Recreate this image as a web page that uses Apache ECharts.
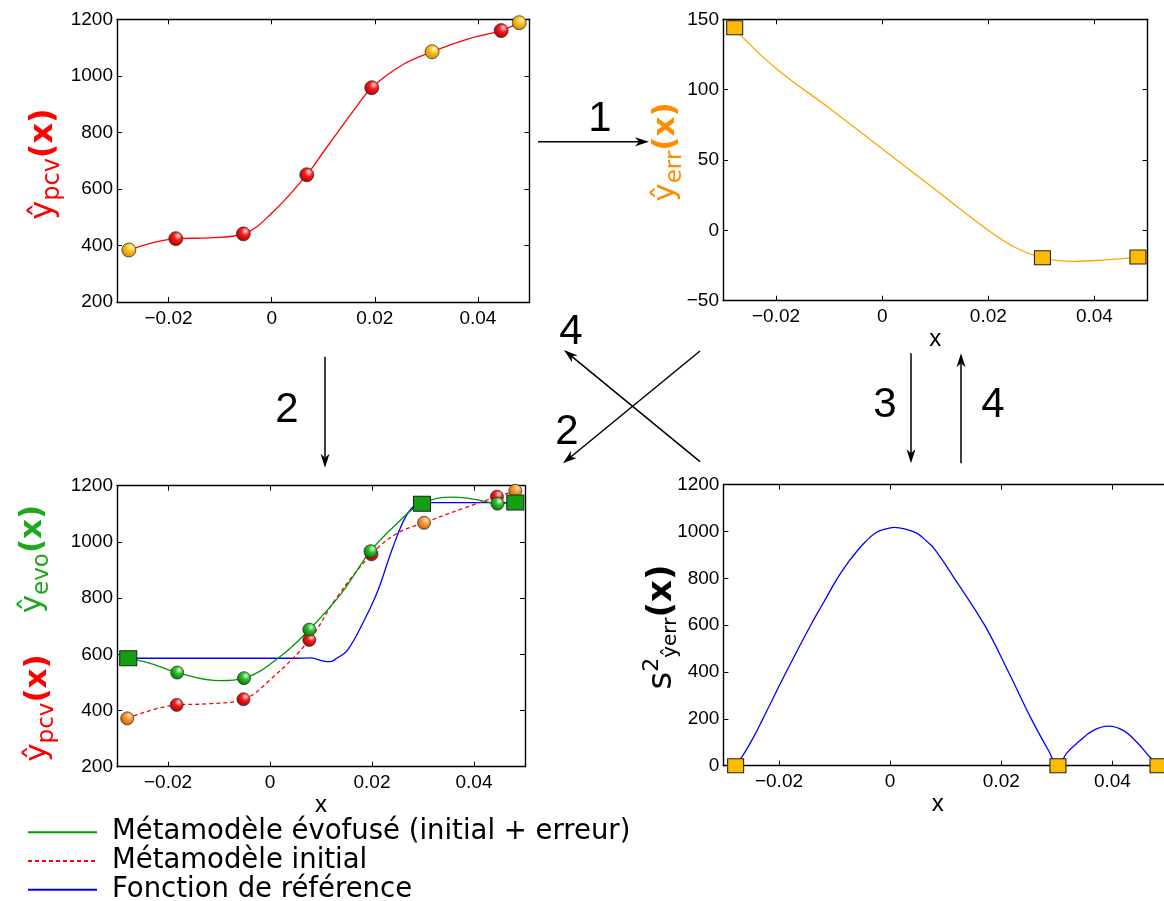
<!DOCTYPE html>
<html><head><meta charset="utf-8">
<script src="https://cdn.jsdelivr.net/npm/echarts@6/dist/echarts.min.js"></script>
<style>html,body{margin:0;padding:0;background:#fff}#c{width:1164px;height:901px}</style>
</head><body><div id="c"></div>
<script>
// ---------------- DATA ----------------
const X_TICKS = [-0.02, 0, 0.02, 0.04];

// Panel 1 (top-left): initial metamodel ŷpcv(x)
const p1CurveX = [-0.0277, -0.0186, -0.012, -0.0055, 0, 0.0068, 0.0102, 0.0131, 0.0162, 0.0194, 0.025, 0.0311, 0.038, 0.0445, 0.0480];
const p1CurveY = [384, 424, 427, 441, 514, 650, 735, 808, 885, 958, 1035, 1085, 1130, 1160, 1188];
const p1RedX = [-0.0186, -0.0055, 0.0068, 0.0194, 0.0445];
const p1RedY = [424, 441, 650, 958, 1160];
const p1YelX = [-0.0277, 0.0311, 0.0480];
const p1YelY = [384, 1085, 1188];

// Panel 2 (top-right): error metamodel ŷerr(x)
const p2CurveX = [-0.0278, -0.02, -0.01, 0, 0.01, 0.02, 0.025, 0.0302, 0.036, 0.042, 0.0482];
const p2CurveY = [143, 115, 87, 58, 29, 0, -12, -19.5, -22, -21, -19];
const p2SqX = [-0.0278, 0.0302, 0.0482];
const p2SqY = [144, -19.5, -19];

// Panel 3 (bottom-left)
const p3InitX = [-0.028, -0.0183, -0.012, -0.0052, 0, 0.0077, 0.013, 0.0199, 0.025, 0.0302, 0.038, 0.0445, 0.0481];
const p3InitY = [372, 420, 424, 440, 509, 651, 800, 956, 1031, 1068, 1120, 1161, 1182];
const p3EvoX = [-0.0278, -0.023, -0.0182, -0.0097, -0.0051, 0.002, 0.0077, 0.014, 0.0197, 0.025, 0.0297, 0.036, 0.041, 0.0446, 0.0481];
const p3EvoY = [586, 565, 535, 506, 515, 592, 688, 817, 967, 1067, 1136, 1159, 1149, 1136, 1140];
const p3RefX = [-0.0278, -0.01, 0.005, 0.008, 0.0105, 0.0118, 0.013, 0.0152, 0.0185, 0.0212, 0.0239, 0.0266, 0.0286, 0.0297, 0.035, 0.0481];
const p3RefY = [586, 586, 586, 587, 576, 574, 585, 615, 722, 829, 971, 1090, 1134, 1140, 1140, 1140];
const p3RedX = [-0.0183, -0.0052, 0.0077, 0.0199, 0.0445];
const p3RedY = [420, 440, 651, 956, 1161];
const p3OraX = [-0.028, 0.0302, 0.0481];
const p3OraY = [372, 1068, 1182];
const p3GrnX = [-0.0182, -0.0051, 0.0077, 0.0197, 0.0446];
const p3GrnY = [535, 515, 688, 967, 1136];
const p3SqX = [-0.0278, 0.0298, 0.0481];
const p3SqY = [586, 1136, 1140];

// Panel 4 (bottom-right): kriging variance s²
const p4CurveX = [-0.0278, -0.0262, -0.0245, -0.0229, -0.0187, -0.0143, -0.0119, -0.0095, -0.0075, -0.006, -0.0045, -0.0027, -0.001, 0.0008, 0.0028, 0.0048, 0.0065, 0.008, 0.0113, 0.017, 0.0213, 0.0254, 0.0285, 0.0302, 0.0318, 0.0338, 0.0365, 0.0393, 0.042, 0.0444, 0.0468, 0.0482];
const p4CurveY = [0, 55, 125, 200, 400, 600, 700, 800, 870, 915, 955, 993, 1010, 1018, 1010, 993, 960, 925, 810, 600, 400, 200, 65, 0, 55, 100, 150, 169, 150, 100, 35, 0];
const p4SqX = [-0.0278, 0.0302, 0.0482];
const p4SqY = [0, 0, 0];

const LEGEND_NAMES = ['Métamodèle évofusé (initial + erreur)', 'Métamodèle initial', 'Fonction de référence'];

// ---------------- HELPERS ----------------
const zip = (xs, ys) => xs.map((x, i) => [x, ys[i]]);
const TICK_FONT = 'Liberation Sans';
const fmtX = v => Math.abs(v) < 1e-9 ? '0' : (v < 0 ? '\u2212' : '') + Math.abs(v).toFixed(2);
const fmtY = v => v < 0 ? '\u2212' + (-v) : String(v);

function xAxes(g, withName, namePad) {
  const line = {show: true, onZero: false, lineStyle: {color: '#000', width: 1.4}};
  const tick = {show: true, inside: true, length: 5, customValues: X_TICKS, lineStyle: {color: '#000', width: 1}};
  return [
    {type: 'value', gridIndex: g, position: 'bottom', min: -0.03, max: 0.05,
     name: withName ? 'x' : '', nameLocation: 'middle', nameGap: 21,
     nameTextStyle: {fontSize: 24, fontFamily: TICK_FONT, color: '#000', padding: namePad || 0},
     axisLine: line, axisTick: tick,
     axisLabel: {show: true, customValues: X_TICKS, margin: 7, formatter: fmtX, color: '#000', fontSize: 19, fontFamily: TICK_FONT},
     splitLine: {show: false}},
    {type: 'value', gridIndex: g, position: 'top', min: -0.03, max: 0.05,
     axisLine: line, axisTick: tick, axisLabel: {show: false}, splitLine: {show: false}}
  ];
}
function yAxes(g, min, max, interval, rightTicks) {
  const line = {show: true, onZero: false, lineStyle: {color: '#000', width: 1.4}};
  const tick = {show: true, inside: true, length: 5, lineStyle: {color: '#000', width: 1}};
  return [
    {type: 'value', gridIndex: g, position: 'left', min, max, interval,
     axisLine: line, axisTick: tick,
     axisLabel: {show: true, margin: 4, formatter: fmtY, color: '#000', fontSize: 19, fontFamily: TICK_FONT},
     splitLine: {show: false}},
    {type: 'value', gridIndex: g, position: 'right', min, max, interval,
     axisLine: line, axisTick: Object.assign({}, tick, {show: rightTicks !== false}), axisLabel: {show: false}, splitLine: {show: false}}
  ];
}
function sphere(c0, c1, c2) {
  return {type: 'radial', x: 0.64, y: 0.32, r: 0.72,
    colorStops: [{offset: 0, color: c0}, {offset: 0.38, color: c1}, {offset: 1, color: c2}]};
}
const RED_BALL = sphere('#ffe4e4', '#ff1a1a', '#a00000');
const YEL_BALL = sphere('#fff6c8', '#ffc21f', '#c88a00');
const ORA_BALL = sphere('#ffe6cc', '#ff9a30', '#c45c00');
const GRN_BALL = sphere('#e0ffe0', '#2fc12f', '#066e06');

function line(g, name, xs, ys, color, opts) {
  return Object.assign({type: 'line', name, xAxisIndex: 2 * g, yAxisIndex: 2 * g, data: zip(xs, ys),
    smooth: 0.4, symbol: 'none', lineStyle: {color, width: 1.3}, itemStyle: {color}, z: 3, silent: true}, opts || {});
}
function balls(g, xs, ys, fill, size, z) {
  return {type: 'scatter', xAxisIndex: 2 * g, yAxisIndex: 2 * g, data: zip(xs, ys), symbol: 'circle',
    symbolSize: size, itemStyle: {color: fill, borderColor: '#333', borderWidth: 0.8, opacity: 1}, z: z || 5, clip: false, silent: true};
}
function squares(g, xs, ys, fill, size, z) {
  return {type: 'scatter', xAxisIndex: 2 * g, yAxisIndex: 2 * g, data: zip(xs, ys), symbol: 'rect',
    symbolSize: size, itemStyle: {color: fill, borderColor: '#222', borderWidth: 1, opacity: 1}, z: z || 6, clip: false, silent: true};
}

// rotated axis titles (rich text)
function vLabel(x, y, color, main, sub, fs, sfs, shift) {
  return {type: 'text', x, y, rotation: Math.PI / 2, z: 20, silent: true,
    style: {text: '{m|' + main + '}{s|' + sub + '}{b|(x)}', align: 'center', verticalAlign: 'middle',
      rich: {
        m: {fontSize: fs, fontFamily: 'DejaVu Sans', fill: color},
        s: {fontSize: sfs, fontFamily: 'DejaVu Sans', fill: color, padding: [shift, 0, 0, 0]},
        b: {fontSize: fs, fontFamily: 'DejaVu Sans', fill: color, fontWeight: 'bold'}
      }}};
}
function arrow(x1, y1, x2, y2) {
  const L = 14, W = 4.5, N = 4;
  const dx = x2 - x1, dy = y2 - y1, len = Math.hypot(dx, dy);
  const ux = dx / len, uy = dy / len, nx = -uy, ny = ux;
  const bx = x2 - ux * L, by = y2 - uy * L;
  const mx = x2 - ux * (L - N), my = y2 - uy * (L - N);
  return [
    {type: 'line', silent: true, z: 20, shape: {x1, y1, x2: mx, y2: my}, style: {stroke: '#000', lineWidth: 1.5}},
    {type: 'polygon', silent: true, z: 20, shape: {points: [[x2, y2], [bx + nx * W, by + ny * W], [mx, my], [bx - nx * W, by - ny * W]]},
     style: {fill: '#000'}}
  ];
}
function num(t, x, y) {
  return {type: 'text', x, y, z: 20, silent: true,
    style: {text: t, fontSize: 42, fontFamily: 'Liberation Sans', fill: '#000', align: 'center', verticalAlign: 'middle'}};
}

// ---------------- CHART ----------------
const chart = echarts.init(document.getElementById('c'), null, {renderer: 'canvas'});

const graphics = [
  vLabel(44, 164, '#ff0000', 'ŷ', 'pcv', 32, 24, 18),
  vLabel(666, 152, '#ff8c00', 'ŷ', 'err', 31, 23, 18),
  vLabel(33, 559, '#1ea81e', 'ŷ', 'evo', 31, 23, 18),
  vLabel(38, 708, '#ff0000', 'ŷ', 'pcv', 31, 23, 18),
  {type: 'text', x: 662, y: 627, rotation: Math.PI / 2, z: 20, silent: true,
   style: {text: '{m|s}{p|2}{s|ŷerr}{b|(x)}', align: 'center', verticalAlign: 'middle',
     rich: {
       m: {fontSize: 34, fontFamily: 'DejaVu Sans', fill: '#000'},
       p: {fontSize: 22, fontFamily: 'DejaVu Sans', fill: '#000', padding: [0, 0, 20, 0]},
       s: {fontSize: 20, fontFamily: 'DejaVu Sans', fill: '#000', padding: [18, 0, 0, 0]},
       b: {fontSize: 34, fontFamily: 'DejaVu Sans', fill: '#000', fontWeight: 'bold'}
     }}},
  ...arrow(538, 141.7, 649, 141.7),
  ...arrow(325, 356.7, 325, 467.7),
  ...arrow(700, 461.7, 564, 350),
  ...arrow(700, 351, 563, 463.3),
  ...arrow(911, 353.3, 911, 463.3),
  ...arrow(961, 463.3, 961, 353.3),
  num('1', 600, 119),
  num('2', 287, 410),
  num('4', 571, 332),
  num('2', 567, 432),
  num('3', 885, 405),
  num('4', 993, 405)
];

const option = {
  animation: false,
  backgroundColor: '#fff',
  grid: [
    {left: 117, top: 19.3, width: 412.5, height: 282.7, outerBoundsMode: 'none', containLabel: false},
    {left: 723, top: 19.3, width: 424.5, height: 281.4, outerBoundsMode: 'none', containLabel: false},
    {left: 117, top: 485.7, width: 408, height: 281, outerBoundsMode: 'none', containLabel: false},
    {left: 723.4, top: 484.7, width: 444.6, height: 281, outerBoundsMode: 'none', containLabel: false}
  ],
  xAxis: [...xAxes(0, false), ...xAxes(1, true), ...xAxes(2, true), ...xAxes(3, true, [0, 16, 0, 0])],
  yAxis: [...yAxes(0, 200, 1200, 200), ...yAxes(1, -50, 150, 50), ...yAxes(2, 200, 1200, 200), ...yAxes(3, 0, 1200, 200, false)],
  legend: {
    orient: 'vertical', left: 27, top: 818, height: 90, padding: 0, itemGap: 0, itemWidth: 69, itemHeight: 12,
    data: LEGEND_NAMES, selectedMode: false,
    itemStyle: {opacity: 0},
    textStyle: {fontSize: 27.5, fontFamily: 'DejaVu Sans', color: '#000', lineHeight: 28.7, padding: [0, 0, 0, 10]}
  },
  series: [
    // panel 1
    line(0, 'p1', p1CurveX, p1CurveY, '#ff0000'),
    balls(0, p1RedX, p1RedY, RED_BALL, 14),
    balls(0, p1YelX, p1YelY, YEL_BALL, 14),
    // panel 2
    line(1, 'p2', p2CurveX, p2CurveY, '#ffa500'),
    squares(1, p2SqX, p2SqY, '#ffbb00', [16, 14]),
    // panel 3
    line(2, LEGEND_NAMES[2], p3RefX, p3RefY, '#0000ff'),
    line(2, LEGEND_NAMES[1], p3InitX, p3InitY, '#ff0000', {lineStyle: {color: '#ff0000', width: 1.3, type: [4, 3]}}),
    line(2, LEGEND_NAMES[0], p3EvoX, p3EvoY, '#009a00'),
    balls(2, p3RedX, p3RedY, RED_BALL, 13, 5),
    balls(2, p3OraX, p3OraY, ORA_BALL, 13, 5),
    balls(2, p3GrnX, p3GrnY, GRN_BALL, 13, 6),
    squares(2, p3SqX, p3SqY, '#11a011', [17, 15], 7),
    // panel 4
    line(3, 'p4', p4CurveX, p4CurveY, '#0000ff'),
    squares(3, p4SqX, p4SqY, '#ffbb00', [16, 14])
  ],
  graphic: graphics
};
chart.setOption(option);
</script>
</body></html>
